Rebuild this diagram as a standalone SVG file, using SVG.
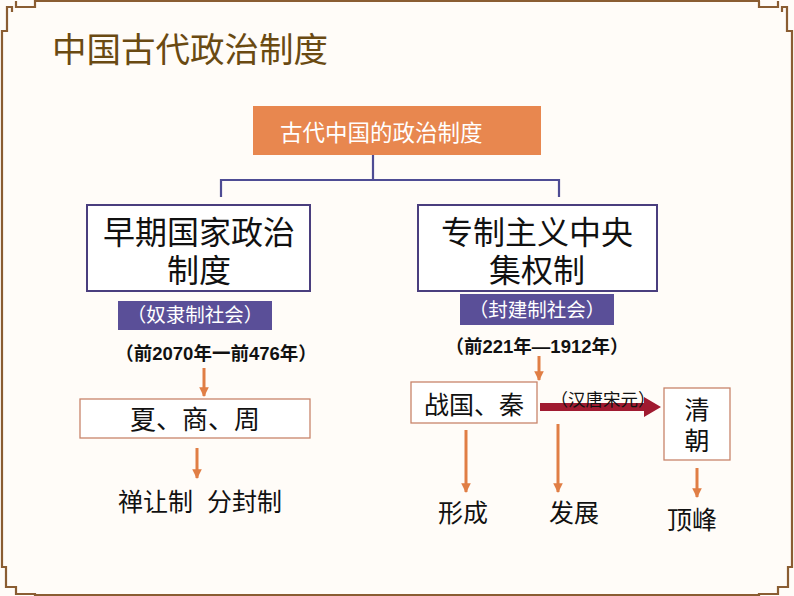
<svg xmlns="http://www.w3.org/2000/svg" width="794" height="596" viewBox="0 0 794 596">
<defs>
<style>
.brd{fill:none;stroke:#8A5D32;stroke-width:2.2}
.cn{font-family:"Liberation Sans","Noto Sans CJK SC",sans-serif}
.big{font-size:32px;fill:#111}
.mid{font-size:25px;fill:#111}
.wt{fill:#fff}
.box{fill:#fff;stroke:#4A3E7E;stroke-width:2}
.obox{fill:#fff;stroke:#C8846A;stroke-width:1.3}
.tag{fill:#5A4F98}
.oa{stroke:#E07E45;stroke-width:3;fill:none}
.conn{stroke:#4E4C94;stroke-width:2.2;fill:none}
</style>
<marker id="ah" viewBox="0 0 10 10" refX="9" refY="5" markerWidth="3.2" markerHeight="3.2" orient="auto">
<path d="M0,0 L10,5 L0,10 Z" fill="#E07E45"/>
</marker>
</defs>
<rect width="794" height="596" fill="#FFFCF8"/>
<g id="border">
<path class="brd" d="M2,565 V31 H7 V7 H12 V12 M16,1 V7 H35 V1 H760"/>
<path class="brd" d="M792,565 V31 H787 V7 H782 V12 M778,1 V7 H759 V1"/>
<path class="brd" d="M2,565 V567 H6 V587 H16 V594 H35 V596"/>
<path class="brd" d="M35,595 H759"/>
<path class="brd" d="M792,565 V567 H788 V587 H778 V594 H759 V596"/>
</g>
<text class="cn" x="52" y="62" font-size="34.5" fill="#6A4A12">中国古代政治制度</text>
<g id="connectors">
<path class="conn" d="M373,155 V180 M221,180 H559 M221,179 V197 M559,179 V197"/>
<line class="oa" x1="204" y1="368" x2="204" y2="396" marker-end="url(#ah)"/>
<line class="oa" x1="197" y1="448" x2="197" y2="478" marker-end="url(#ah)"/>
<line class="oa" x1="539" y1="356" x2="539" y2="380" marker-end="url(#ah)"/>
<line class="oa" x1="466" y1="430" x2="466" y2="492" marker-end="url(#ah)"/>
<line class="oa" x1="558" y1="424" x2="558" y2="492" marker-end="url(#ah)"/>
<line class="oa" x1="697" y1="468" x2="697" y2="497" marker-end="url(#ah)"/>
<path d="M540,403 H644 V397 L661,407 L644,417 V411 H540 Z" fill="#A01A30"/>
</g>
<g id="root">
<rect x="253" y="106" width="288" height="49" fill="#E8874F"/>
<text class="cn wt" x="280" y="141" font-size="22.5">古代中国的政治制度</text>
</g>
<g id="early">
<rect class="box" x="87" y="205" width="223" height="86"/>
<text class="cn big" text-anchor="middle"><tspan x="199" y="244">早期国家政治</tspan><tspan x="199" y="282">制度</tspan></text>
</g>
<g id="central">
<rect class="box" x="418" y="205" width="239" height="86"/>
<text class="cn big" text-anchor="middle"><tspan x="537" y="244">专制主义中央</tspan><tspan x="537" y="282">集权制</tspan></text>
</g>
<g id="slave">
<rect class="tag" x="118" y="301" width="154" height="29"/>
<text class="cn wt" x="195" y="322" font-size="19.5" text-anchor="middle">（奴隶制社会）</text>
</g>
<g id="feudal">
<rect class="tag" x="460" y="294" width="154" height="31"/>
<text class="cn wt" x="537" y="316.5" font-size="19.5" text-anchor="middle">（封建制社会）</text>
</g>
<text class="cn" x="216" y="360" font-size="18.5" font-weight="bold" fill="#111" text-anchor="middle">（前2070年一前476年）</text>
<text class="cn" x="537" y="353" font-size="18.5" font-weight="bold" fill="#111" text-anchor="middle">（前221年—1912年）</text>
<g id="xsz">
<rect class="obox" x="80" y="399" width="230" height="39"/>
<text class="cn" x="195" y="428.5" font-size="26" fill="#111" text-anchor="middle">夏、商、周</text>
</g>
<g id="rangfeng">
<text class="cn mid" x="200" y="511" text-anchor="middle" xml:space="preserve">禅让制  分封制</text>
</g>
<g id="zgq">
<rect class="obox" x="411" y="382" width="126" height="41"/>
<text class="cn mid" x="474" y="414" text-anchor="middle">战国、秦</text>
</g>
<text class="cn" x="603" y="406" font-size="17.5" fill="#111" text-anchor="middle">（汉唐宋元）</text>
<g id="qing">
<rect class="obox" x="664" y="388" width="66" height="72"/>
<text class="cn mid" text-anchor="middle"><tspan x="697" y="419">清</tspan><tspan x="697" y="450">朝</tspan></text>
</g>
<g id="xingcheng"><text class="cn mid" x="463" y="522" text-anchor="middle">形成</text></g>
<g id="fazhan"><text class="cn mid" x="574" y="522" text-anchor="middle">发展</text></g>
<g id="dingfeng"><text class="cn mid" x="692" y="529" text-anchor="middle">顶峰</text></g>
</svg>
